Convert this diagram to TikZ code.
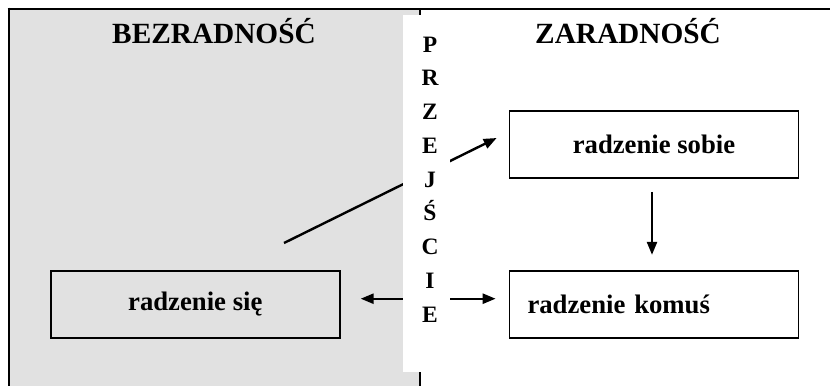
\documentclass[tikz,border=0pt]{standalone}
\usepackage{fontspec}
\setmainfont{Liberation Serif}
\usepackage{tikz}
\usetikzlibrary{arrows.meta, positioning}
\definecolor{helplesscolor}{RGB}{225,225,225}

\begin{document}
\begin{tikzpicture}[
    x=1pt, y=-1pt,
    node distance=20pt,
    title/.style={font=\fontsize{29.3}{31}\selectfont\bfseries, anchor=base},
    letter/.style={font=\fontsize{23.5}{25}\selectfont\bfseries, anchor=base, inner sep=0pt},
    stage/.style={rectangle, draw, line width=1.7pt, minimum width=289pt, minimum height=67pt, font=\fontsize{26.7}{29}\selectfont\bfseries},
    strip/.style={rectangle, fill=white, inner sep=0pt, minimum width=47pt, minimum height=357pt, anchor=north west},
    arrow/.style={-{Triangle[length=13pt,width=10pt]}, line width=2.4pt}
]
\useasboundingbox (0,0) rectangle (830,386);

% Background and frame
\fill[helplesscolor] (9,9) rectangle (420,386);
\draw[line width=2.6pt] (420,9) -- (420,386);
\draw[line width=2.6pt] (7.7,9) -- (830,9);
\draw[line width=2.6pt] (9,7.7) -- (9,386);

% Headings
\node[title] (bez) at (214,43) {BEZRADNOŚĆ};
\node[title] (zar) at (628,43) {ZARADNOŚĆ};

% Boxes
\node[stage] (sobie) at (654,144.5) {radzenie sobie};
\node[stage, text width=253pt, align=left, below=91pt of sobie] (komus) {radzenie komuś};
\node[stage, left=168pt of komus] (sie) {radzenie się};

% Arrows
\coordinate (start) at (284,243);
\draw[arrow] (start) -- ([xshift=-12pt,yshift=6.5pt]sobie.west);
\draw[arrow] ([xshift=-2pt,yshift=-13pt]sobie.south) -- ([xshift=-2pt,yshift=15pt]komus.north);
\draw[arrow, {Triangle[length=13pt,width=10pt]}-{Triangle[length=13pt,width=10pt]}] ([xshift=20pt,yshift=5.5pt]sie.east) -- ([xshift=-13pt,yshift=5.5pt]komus.west);

% Middle strip
\node[strip] (gap) at (403,15) {};
\foreach \l [count=\i] in {P,R,Z,E,J,Ś,C,I,E}
    \node[letter] (l\i) at (430,52+33.75*\i-33.75) {\l};

\end{tikzpicture}
\end{document}
